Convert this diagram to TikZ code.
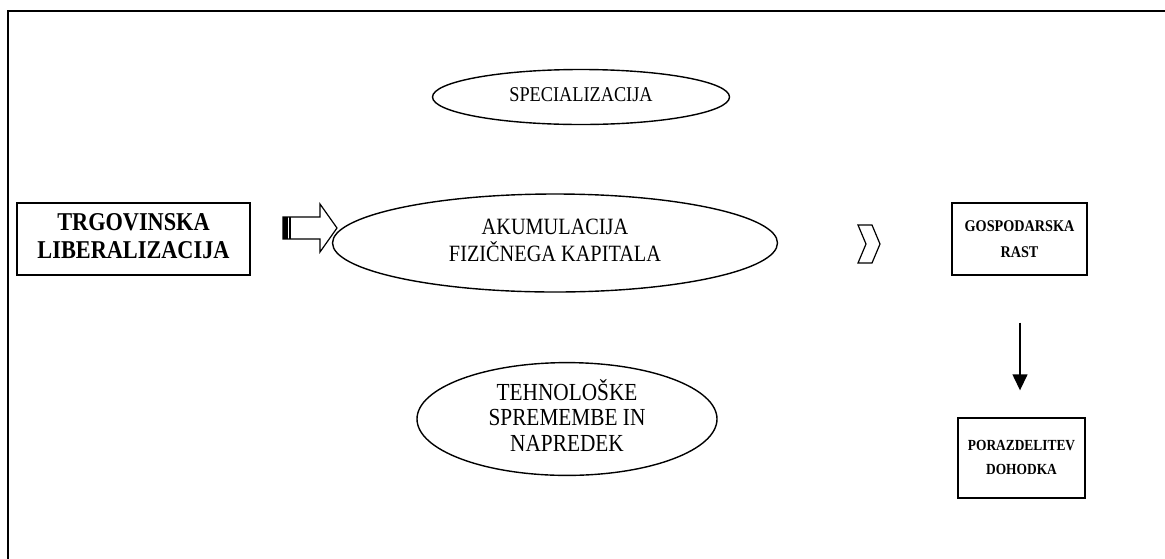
\documentclass[tikz,border=0pt]{standalone}
\usepackage{fontspec}
\usepackage{graphicx}
\setmainfont{Liberation Serif}
\usetikzlibrary{shapes.geometric,arrows.meta,calc}
\newcommand{\stretchtext}[1]{\scalebox{1}[1.15]{\begin{tabular}{@{}c@{}}#1\end{tabular}}}
\begin{document}
\begin{tikzpicture}[x=1pt,y=-1pt,
  ell/.style={draw,ellipse,line width=1.4pt,inner sep=0pt,align=center},
  bbox/.style={draw,rectangle,line width=1.4pt,inner sep=0pt,align=center},
  hollow/.style={line width=1.2pt,line join=miter}]
\useasboundingbox (0,0) rectangle (1165,558);
\draw[line width=1.8pt] (8,11) rectangle (1185,580);
\node[ell,minimum width=297pt,minimum height=55pt,font=\fontsize{18.3}{19}\selectfont] (spec) at (581,97) {\stretchtext{SPECIALIZACIJA}};
\node[ell,minimum width=445pt,minimum height=98pt,font=\fontsize{20.3}{21.7}\selectfont] (akum) at (555,243) {\stretchtext{AKUMULACIJA\\FIZIČNEGA KAPITALA}};
\node[ell,minimum width=300pt,minimum height=106pt,font=\fontsize{21.3}{22.2}\selectfont] (teh) at (567,419) {\stretchtext{TEHNOLOŠKE\\SPREMEMBE IN\\NAPREDEK}};
\node[bbox,minimum width=233pt,minimum height=72pt,font=\bfseries\fontsize{22.3}{23.9}\selectfont] (trg) at (133.5,239) {\stretchtext{TRGOVINSKA\\LIBERALIZACIJA}};
\node[bbox,minimum width=135pt,minimum height=72pt,font=\bfseries\fontsize{14.2}{22.6}\selectfont] (gosp) at (1019.5,239) {\stretchtext{GOSPODARSKA\\RAST}};
\node[bbox,minimum width=127pt,minimum height=80pt,font=\bfseries\fontsize{13.4}{20.9}\selectfont] (por) at (1021.5,458) {\stretchtext{PORAZDELITEV\\DOHODKA}};
% hollow block arrow
\coordinate (ha) at (283,228);
\draw[hollow] ($(ha)+(0,-11)$) -- ++(37,0) -- ++(0,-13) -- ++(17,24) -- ++(-17,24) -- ++(0,-13) -- ++(-37,0) -- cycle;
\fill ($(ha)+(0,-11)$) rectangle ($(ha)+(4.5,11)$);
\draw[line width=1.2pt] ($(ha)+(7,-11)$) -- ($(ha)+(7,11)$);
% chevron
\coordinate (ch) at (858,225);
\draw[hollow] (ch) -- ++(14,0) -- ++(8,19) -- ++(-8,19) -- ++(-14,0) -- ++(8,-19) -- cycle;
% down arrow
\coordinate (a1) at ($(gosp.south)+(0.5,47)$);
\coordinate (a2) at (a1 |- por.north);
\draw[line width=1.4pt,-{Triangle[width=15pt,length=16pt]}] (a1) -- ($(a2)+(0,-27)$);
\end{tikzpicture}
\end{document}
